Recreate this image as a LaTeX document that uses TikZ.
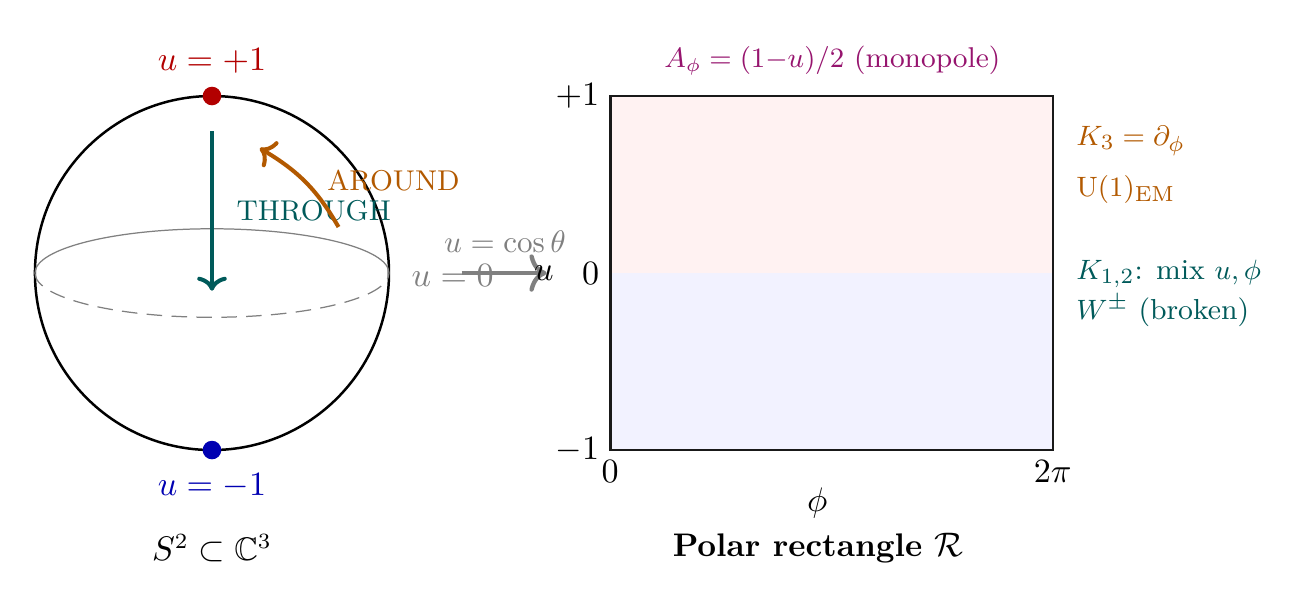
\documentclass[tikz,border=0pt]{standalone}
\usepackage{amsmath,amssymb}
\usetikzlibrary{arrows.meta,bending}
\definecolor{cRed}{RGB}{178,0,0}
\definecolor{cBlue}{RGB}{0,0,178}
\definecolor{cTeal}{RGB}{0,90,90}
\definecolor{cOrange}{RGB}{178,89,0}
\definecolor{cPurple}{RGB}{150,20,110}
\newcommand{\mainsize}{\fontsize{10.5}{12.6}\selectfont}
\newcommand{\tagsize}{\fontsize{9.2}{11}\selectfont}
\newcommand{\sidesize}{\fontsize{9.3}{11.2}\selectfont}
\newcommand{\mapsize}{\fontsize{9.7}{11.6}\selectfont}
\tikzset{
  every node/.style={font=\mainsize},
  pole/.style={circle,fill=#1,inner sep=0pt,minimum size=0.21cm},
  flowarrow/.style={line width=1.3pt,-{Computer Modern Rightarrow[width=9.5pt,length=4.5pt]}},
  maparrow/.style={gray,line width=1.4pt,-{Computer Modern Rightarrow[width=12pt,length=5.5pt]}},
  tag label/.style={font=\tagsize,inner sep=0pt},
  gray label/.style={font=\mainsize,inner sep=0pt,text=gray},
  side label/.style={font=\sidesize,anchor=base west,inner sep=0pt},
}
\begin{document}
\begin{tikzpicture}
\useasboundingbox (-2.395,-3.819) rectangle (12.395,3.085);
% sphere
\draw[thick] (0,0) circle (2);
\draw[gray,thin] (2,0) arc[start angle=0,end angle=180,x radius=2,y radius=0.5];
\draw[gray,thin,dash pattern=on 5pt off 3pt] (-2,0) arc[start angle=180,end angle=360,x radius=2,y radius=0.5];
\node[pole=cRed] (top) at (0,2) {};
\node[pole=cBlue] (bot) at (0,-2) {};
\node[text=cRed] (toplab) at (0,2.40) {$u=+1$};
\node[text=cBlue] (botlab) at (0,-2.41) {$u=-1$};
\node (sph) at (0,-3.11) {$S^2\subset\mathbb{C}^3$};
% through arrow
\coordinate (thA) at (0,1.6);
\coordinate (thB) at (0,-0.2);
\draw[flowarrow,cTeal] (thA) -- (thB);
\node[tag label,text=cTeal] (through) at (1.15,0.70) {THROUGH};
% around arrow
\coordinate (arA) at (1.43,0.52);
\coordinate (arB) at (0.54,1.41);
\draw[flowarrow,cOrange] (arA) to[bend right=15] (arB);
\node[tag label,text=cOrange] (around) at (2.05,1.05) {AROUND};
% equator label
\node[gray label] (ueq) at (2.72,-0.03) {$u=0$};
% map arrow
\coordinate (mA) at (2.82,0);
\coordinate (mB) at (3.78,0);
\draw[maparrow] (mA) -- (mB);
\node[gray label,font=\mapsize] (cosl) at (3.31,0.35) {$u=\cos\theta$};
\node[inner sep=0pt] (ulab) at (3.75,0) {$u$};
% rectangle
\fill[red!5] (4.5,0) rectangle (9.5,2);
\fill[blue!5] (4.5,-2) rectangle (9.5,0);
\draw[thick,black!90] (4.5,-2) rectangle (9.5,2);
\node[left] (tp1) at (4.5,2) {$+1$};
\node[left] (t0) at (4.5,0) {$0$};
\node[left] (tm1) at (4.5,-2) {$-1$};
\node[below] (b0) at (4.5,-2) {$0$};
\node[below] (b2pi) at (9.5,-2) {$2\pi$};
\node (philab) at (6.84,-2.6) {$\phi$};
\node[font=\mainsize\bfseries] (rectlab) at (6.85,-3.11) {Polar rectangle $\mathcal{R}$};
\node[tag label,text=cPurple] (alab) at (7.01,2.40) {$A_\phi=(1{-}u)/2$ (monopole)};
% side labels
\node[side label,text=cOrange] (k3) at (9.76,1.44) {$K_3=\partial_\phi$};
\node[side label,text=cOrange] (u1) at (9.76,0.87) {$\mathrm{U}(1)_{\mathrm{EM}}$};
\node[side label,text=cTeal] (k12) at (9.76,-0.07) {$K_{1,2}$: mix $u,\phi$};
\node[side label,text=cTeal] (wpm) at (9.76,-0.53) {$W^{\pm}$ (broken)};
\end{tikzpicture}
\end{document}
